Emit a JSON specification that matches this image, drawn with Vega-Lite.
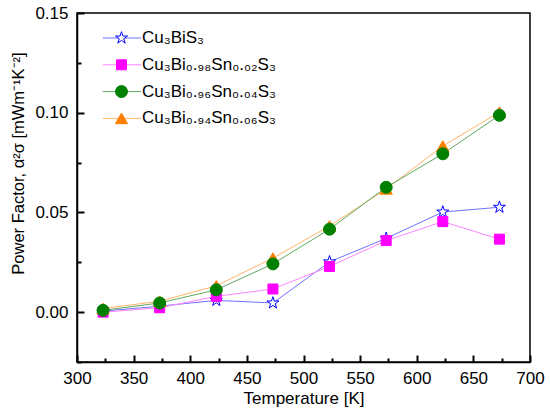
{
  "$schema": "https://vega.github.io/schema/vega-lite/v6.json",
  "width": 453,
  "height": 349,
  "autosize": "none",
  "padding": {"left": 77, "top": 13, "right": 20, "bottom": 54},
  "config": {
    "font": "Liberation Sans",
    "view": {"stroke": "black", "strokeWidth": 1.5}
  },
  "data": {
    "values": [
      {"series": "Cu₃BiS₃", "sn": 0, "T": 323, "pf": 0.0005},
      {"series": "Cu₃BiS₃", "sn": 0, "T": 373, "pf": 0.003},
      {"series": "Cu₃BiS₃", "sn": 0, "T": 423, "pf": 0.0059},
      {"series": "Cu₃BiS₃", "sn": 0, "T": 473, "pf": 0.0046},
      {"series": "Cu₃BiS₃", "sn": 0, "T": 523, "pf": 0.0252},
      {"series": "Cu₃BiS₃", "sn": 0, "T": 573, "pf": 0.037},
      {"series": "Cu₃BiS₃", "sn": 0, "T": 623, "pf": 0.0502},
      {"series": "Cu₃BiS₃", "sn": 0, "T": 673, "pf": 0.0526},
      {"series": "Cu₃Bi₀.₉₈Sn₀.₀₂S₃", "sn": 0.02, "T": 323, "pf": 0.0},
      {"series": "Cu₃Bi₀.₉₈Sn₀.₀₂S₃", "sn": 0.02, "T": 373, "pf": 0.0022},
      {"series": "Cu₃Bi₀.₉₈Sn₀.₀₂S₃", "sn": 0.02, "T": 423, "pf": 0.0079},
      {"series": "Cu₃Bi₀.₉₈Sn₀.₀₂S₃", "sn": 0.02, "T": 473, "pf": 0.0116},
      {"series": "Cu₃Bi₀.₉₈Sn₀.₀₂S₃", "sn": 0.02, "T": 523, "pf": 0.0229},
      {"series": "Cu₃Bi₀.₉₈Sn₀.₀₂S₃", "sn": 0.02, "T": 573, "pf": 0.0359},
      {"series": "Cu₃Bi₀.₉₈Sn₀.₀₂S₃", "sn": 0.02, "T": 623, "pf": 0.0454},
      {"series": "Cu₃Bi₀.₉₈Sn₀.₀₂S₃", "sn": 0.02, "T": 673, "pf": 0.0366},
      {"series": "Cu₃Bi₀.₉₄Sn₀.₀₆S₃", "sn": 0.06, "T": 323, "pf": 0.0018},
      {"series": "Cu₃Bi₀.₉₄Sn₀.₀₆S₃", "sn": 0.06, "T": 373, "pf": 0.0055},
      {"series": "Cu₃Bi₀.₉₄Sn₀.₀₆S₃", "sn": 0.06, "T": 423, "pf": 0.0132},
      {"series": "Cu₃Bi₀.₉₄Sn₀.₀₆S₃", "sn": 0.06, "T": 473, "pf": 0.0271},
      {"series": "Cu₃Bi₀.₉₄Sn₀.₀₆S₃", "sn": 0.06, "T": 523, "pf": 0.0432},
      {"series": "Cu₃Bi₀.₉₄Sn₀.₀₆S₃", "sn": 0.06, "T": 573, "pf": 0.0618},
      {"series": "Cu₃Bi₀.₉₄Sn₀.₀₆S₃", "sn": 0.06, "T": 623, "pf": 0.0833},
      {"series": "Cu₃Bi₀.₉₄Sn₀.₀₆S₃", "sn": 0.06, "T": 673, "pf": 0.1003},
      {"series": "Cu₃Bi₀.₉₆Sn₀.₀₄S₃", "sn": 0.04, "T": 323, "pf": 0.0009},
      {"series": "Cu₃Bi₀.₉₆Sn₀.₀₄S₃", "sn": 0.04, "T": 373, "pf": 0.0046},
      {"series": "Cu₃Bi₀.₉₆Sn₀.₀₄S₃", "sn": 0.04, "T": 423, "pf": 0.0112},
      {"series": "Cu₃Bi₀.₉₆Sn₀.₀₄S₃", "sn": 0.04, "T": 473, "pf": 0.0242},
      {"series": "Cu₃Bi₀.₉₆Sn₀.₀₄S₃", "sn": 0.04, "T": 523, "pf": 0.0416},
      {"series": "Cu₃Bi₀.₉₆Sn₀.₀₄S₃", "sn": 0.04, "T": 573, "pf": 0.0626},
      {"series": "Cu₃Bi₀.₉₆Sn₀.₀₄S₃", "sn": 0.04, "T": 623, "pf": 0.0794},
      {"series": "Cu₃Bi₀.₉₆Sn₀.₀₄S₃", "sn": 0.04, "T": 673, "pf": 0.0987}
    ]
  },
  "encoding": {
    "x": {
      "field": "T",
      "type": "quantitative",
      "scale": {"domain": [300, 700], "nice": false, "zero": false},
      "axis": {
        "title": "Temperature [K]",
        "values": [300, 325, 350, 375, 400, 425, 450, 475, 500, 525, 550, 575, 600, 625, 650, 675, 700],
        "labelExpr": "datum.value % 50 === 0 ? datum.label : ''",
        "tickSize": {"condition": {"test": "datum.value % 50 === 0", "value": -7}, "value": -4},
        "tickColor": "black",
        "tickWidth": 2,
        "labelPadding": 15,
        "labelFlush": false,
        "labelOverlap": false,
        "labelFontSize": 17,
        "labelColor": "black",
        "titleFontSize": 17,
        "titleFontWeight": "normal",
        "titleColor": "black",
        "titlePadding": 1,
        "domainColor": "black",
        "domainWidth": 1.5,
        "grid": false
      }
    },
    "y": {
      "field": "pf",
      "type": "quantitative",
      "scale": {"domain": [-0.025, 0.15], "nice": false, "zero": false},
      "axis": {
        "title": "Power Factor, α²σ [mWm⁻¹K⁻²]",
        "titleY": 150,
        "values": [-0.025, 0, 0.025, 0.05, 0.075, 0.1, 0.125, 0.15],
        "format": ".2f",
        "labelExpr": "round(datum.value * 1000) % 50 === 0 ? datum.label : ''",
        "tickSize": {"condition": {"test": "round(datum.value * 1000) % 50 === 0", "value": -7}, "value": -4},
        "tickColor": "black",
        "tickWidth": 2,
        "labelPadding": 16,
        "labelFlush": false,
        "labelOverlap": false,
        "labelFontSize": 17,
        "labelColor": "black",
        "titleFontSize": 16.5,
        "titleFontWeight": "normal",
        "titleColor": "black",
        "titlePadding": 8,
        "domainColor": "black",
        "domainWidth": 1.5,
        "grid": false
      }
    }
  },
  "layer": [
    {
      "mark": {"type": "line", "strokeWidth": 1},
      "encoding": {
        "stroke": {
          "field": "series",
          "type": "nominal",
          "scale": {
            "domain": ["Cu₃BiS₃", "Cu₃Bi₀.₉₈Sn₀.₀₂S₃", "Cu₃Bi₀.₉₆Sn₀.₀₄S₃", "Cu₃Bi₀.₉₄Sn₀.₀₆S₃"],
            "range": ["#7070ff", "#ff85ff", "#60a860", "#ffb46a"]
          },
          "legend": {
            "orient": "none",
            "legendX": 36.5,
            "legendY": 16.5,
            "title": null,
            "padding": 0,
            "labelFontSize": 17,
            "labelOpacity": 0,
            "symbolType": "M-3.5,0H3.5",
            "symbolSize": 121,
            "symbolStrokeWidth": 1,
            "rowPadding": 8.8,
            "zindex": 1
          }
        }
      }
    },
    {
      "mark": {"type": "point", "filled": false, "opacity": 1, "strokeWidth": 1},
      "encoding": {
        "color": {
          "field": "series",
          "type": "nominal",
          "sort": {"field": "sn", "op": "min"},
          "scale": {"range": ["#0000ff", "#ff00ff", "#008000", "#ff8000"]},
          "legend": {
            "orient": "none", "legendX": 36, "legendY": 16.5, "title": null, "padding": 0,
            "labelFontSize": 17, "labelColor": "black", "labelOffset": 12,
            "symbolStrokeWidth": 1, "rowPadding": 8.8, "zindex": 2
          }
        },
        "fill": {
          "field": "series",
          "type": "nominal",
          "sort": {"field": "sn", "op": "min"},
          "scale": {"range": ["white", "#ff00ff", "#008000", "#ff8000"]}
        },
        "shape": {
          "field": "series",
          "type": "nominal",
          "sort": {"field": "sn", "op": "min"},
          "scale": {"range": ["M0,-1L0.225,-0.309L0.951,-0.309L0.363,0.118L0.588,0.809L0,0.382L-0.588,0.809L-0.363,0.118L-0.951,-0.309L-0.225,-0.309Z", "square", "circle", "triangle-up"]}
        },
        "size": {
          "field": "series",
          "type": "nominal",
          "sort": {"field": "sn", "op": "min"},
          "scale": {"type": "ordinal", "range": [160, 100, 144, 150]}
        }
      }
    }
  ]
}
